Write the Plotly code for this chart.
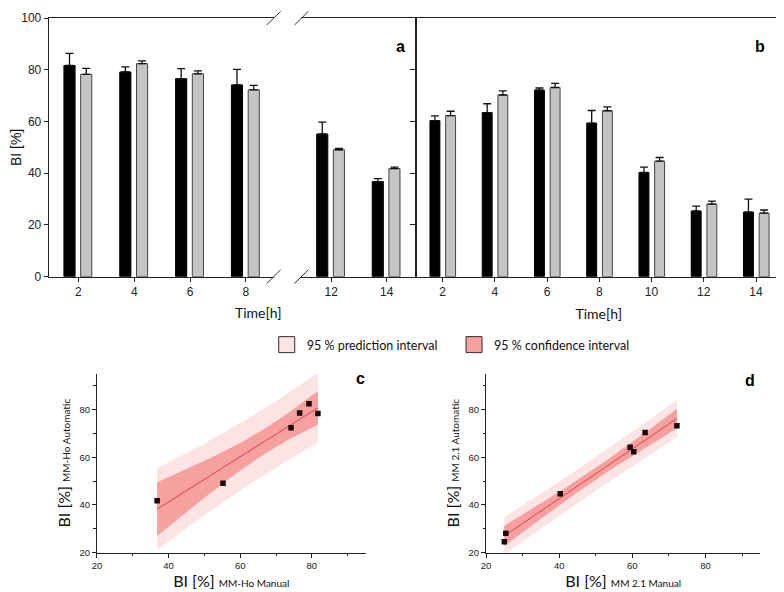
import numpy as np
import plotly.graph_objects as go

W, H = 784, 592
OFF_X = 8  # page body margin of the browser
OFF_Y = 6

# ---------------- data ----------------
# Panel a (MM-Ho): time points, manual (black) and automatic (grey) BI [%], upper error
time_a = [2, 4, 6, 8, 12, 14]
a_manual = [81.7, 79.2, 76.6, 74.2, 55.2, 36.8]
a_manual_err = [4.7, 2.0, 3.9, 6.0, 4.6, 1.1]
a_auto = [78.3, 82.4, 78.5, 72.3, 49.1, 41.8]
a_auto_err = [2.3, 1.1, 1.1, 1.7, 0.5, 0.6]

# Panel b (MM 2.1)
time_b = [2, 4, 6, 8, 10, 12, 14]
b_manual = [60.4, 63.5, 72.2, 59.4, 40.3, 25.4, 25.0]
b_manual_err = [1.8, 3.4, 0.8, 4.9, 2.1, 1.9, 5.0]
b_auto = [62.3, 70.3, 73.2, 64.2, 44.7, 28.1, 24.6]
b_auto_err = [1.7, 1.6, 1.6, 1.5, 1.4, 1.1, 1.2]

y_ticks = [0, 20, 40, 60, 80, 100]
scatter_ticks = [20, 40, 60, 80]
t_crit = {4: 2.776, 5: 2.571}  # Student t (0.975) for df


# ---------------- helpers ----------------
def px(x):
    return (x - OFF_X) / W


def py(y):
    return 1 - (y - OFF_Y) / H


fig = go.Figure()

BLACK = "#000000"
GREY = "#c4c4c4"
AXC = "#222222"
TICKFONT = dict(family="Liberation Sans, Arial", size=12, color="#222")


def add_bars(times, vals, errs, idx, xa, ya, color, lcolor, offset, width, name):
    fig.add_trace(go.Bar(
        x=[times[i] for i in idx], y=[vals[i] for i in idx], name=name,
        error_y=dict(type="data", symmetric=False,
                     array=[errs[i] for i in idx], arrayminus=[0] * len(idx),
                     color="#111", thickness=1.3, width=4),
        marker=dict(color=color, line=dict(color=lcolor, width=1)),
        offset=offset, width=width, xaxis=xa, yaxis=ya, showlegend=False))


left_idx = [i for i, t in enumerate(time_a) if t < 10]
right_idx = [i for i, t in enumerate(time_a) if t > 10]
all_b = list(range(len(time_b)))

add_bars(time_a, a_manual, a_manual_err, left_idx, "x", "y", BLACK, BLACK, -0.52, 0.40, "Manual")
add_bars(time_a, a_auto, a_auto_err, left_idx, "x", "y", GREY, "#444", 0.08, 0.40, "Automatic")
add_bars(time_a, a_manual, a_manual_err, right_idx, "x2", "y2", BLACK, BLACK, -0.52, 0.40, "Manual")
add_bars(time_a, a_auto, a_auto_err, right_idx, "x2", "y2", GREY, "#444", 0.08, 0.40, "Automatic")
add_bars(time_b, b_manual, b_manual_err, all_b, "x3", "y3", BLACK, BLACK, -0.48, 0.38, "Manual")
add_bars(time_b, b_auto, b_auto_err, all_b, "x3", "y3", GREY, "#444", 0.12, 0.38, "Automatic")


# ---------------- regression panels ----------------
def regression(xv, yv):
    x = np.array(xv, dtype=float)
    y = np.array(yv, dtype=float)
    n = len(x)
    slope, intercept = np.polyfit(x, y, 1)
    xs = np.linspace(x.min(), x.max(), 60)
    yhat = intercept + slope * xs
    resid = y - (intercept + slope * x)
    s = np.sqrt(np.sum(resid ** 2) / (n - 2))
    sxx = np.sum((x - x.mean()) ** 2)
    t = t_crit[n - 2]
    conf = t * s * np.sqrt(1 / n + (xs - x.mean()) ** 2 / sxx)
    pred = t * s * np.sqrt(1 + 1 / n + (xs - x.mean()) ** 2 / sxx)
    return xs, yhat, conf, pred


PRED_C = "#fde4e4"
CONF_C = "#f6a0a0"
LINE_C = "#e0403c"


def add_regression(xv, yv, xa, ya):
    xs, yhat, conf, pred = regression(xv, yv)
    xpoly = list(xs) + list(xs[::-1])
    fig.add_trace(go.Scatter(x=xpoly, y=list(yhat + pred) + list((yhat - pred)[::-1]),
                             fill="toself", fillcolor=PRED_C, line=dict(width=0),
                             mode="lines", xaxis=xa, yaxis=ya, showlegend=False,
                             hoverinfo="skip"))
    fig.add_trace(go.Scatter(x=xpoly, y=list(yhat + conf) + list((yhat - conf)[::-1]),
                             fill="toself", fillcolor=CONF_C, line=dict(width=0),
                             mode="lines", xaxis=xa, yaxis=ya, showlegend=False,
                             hoverinfo="skip"))
    fig.add_trace(go.Scatter(x=xs, y=yhat, mode="lines", line=dict(color=LINE_C, width=1),
                             xaxis=xa, yaxis=ya, showlegend=False))
    fig.add_trace(go.Scatter(x=xv, y=yv, mode="markers",
                             marker=dict(symbol="square", size=5.5, color="#1a0505"),
                             xaxis=xa, yaxis=ya, showlegend=False))


add_regression(a_manual, a_auto, "x4", "y4")
add_regression(b_manual, b_auto, "x5", "y5")

# legend entries
fig.add_trace(go.Scatter(x=[None], y=[None], mode="markers", name="95 % prediction interval",
                         marker=dict(symbol="square", size=16, color=PRED_C,
                                     line=dict(color="#3a2a2a", width=1)),
                         xaxis="x4", yaxis="y4", legend="legend"))
fig.add_trace(go.Scatter(x=[None], y=[None], mode="markers", name="95 % confidence interval",
                         marker=dict(symbol="square", size=16, color=CONF_C,
                                     line=dict(color="#3a2a2a", width=1)),
                         xaxis="x4", yaxis="y4", legend="legend2"))

# ---------------- axes ----------------
top_dom = [py(274), py(9.3)]
common_x = dict(showline=True, linecolor=AXC, linewidth=1, mirror=True, ticks="outside",
                ticklen=4, tickcolor=AXC, showgrid=False, zeroline=False, tickfont=TICKFONT)
fig.update_layout(
    xaxis=dict(common_x, domain=[px(42), px(269)], range=[0.935, 8.994], anchor="y",
               tickvals=[t for t in time_a if t < 10]),
    yaxis=dict(domain=top_dom, range=[0, 100], anchor="x", tickvals=y_ticks,
               showline=True, linecolor=AXC, ticks="outside", ticklen=4, tickcolor=AXC,
               showgrid=False, zeroline=False, tickfont=TICKFONT, ticklabeloverflow="allow",
               title=dict(text="BI [%]", font=dict(family="Liberation Sans, Arial", size=14, color="#111"),
                          standoff=3)),
    xaxis2=dict(common_x, domain=[px(297), px(413)], range=[10.93, 15.07], anchor="y2",
                tickvals=[t for t in time_a if t > 10]),
    yaxis2=dict(domain=top_dom, range=[0, 100], anchor="x2", side="right", tickvals=y_ticks,
                showline=True, linecolor=AXC, ticks="inside", ticklen=6, tickcolor=AXC,
                showticklabels=False, showgrid=False, zeroline=False),
    xaxis3=dict(common_x, domain=[px(413), px(781)], range=[1.0, 14.96], anchor="y3",
                tickvals=time_b,
                title=dict(text="Time[h]", font=dict(family="Lato", size=14, color="#111"),
                           standoff=11)),
    yaxis3=dict(domain=top_dom, range=[0, 100], anchor="x3", showline=True, mirror=True,
                linecolor=AXC, ticks="", showticklabels=False, showgrid=False, zeroline=False),
)

sc_font = dict(family="Liberation Sans, Arial", size=9.5, color="#222")
sc_dom_y = [py(556.7), py(373.3)]


def sc_axis(domain, anchor, title):
    return dict(domain=domain, range=[20, 95], anchor=anchor, tickvals=scatter_ticks,
                showline=True, linecolor=AXC, linewidth=1, ticks="outside", ticklen=4,
                tickcolor=AXC, minor=dict(dtick=10, tick0=0, ticks="outside", ticklen=2.5,
                                          tickcolor=AXC),
                showgrid=False, zeroline=False, tickfont=sc_font,
                title=dict(text=title, font=dict(family="Lato", size=16, color="#111"),
                           standoff=4))


fig.update_layout(
    xaxis4=sc_axis([px(90.7), px(361.7)], "y4",
                   'BI [%] <span style="font-size:10px">MM-Ho Manual</span>'),
    yaxis4=sc_axis(sc_dom_y, "x4",
                   'BI [%] <span style="font-size:10px">MM-Ho Automatic</span>'),
    xaxis5=sc_axis([px(483.3), px(760)], "y5",
                   'BI [%] <span style="font-size:10px">MM 2.1 Manual</span>'),
    yaxis5=sc_axis(sc_dom_y, "x5",
                   'BI [%] <span style="font-size:10px">MM 2.1 Automatic</span>'),
)

# time title for panel a (spans the broken axis)
ann = [dict(text="Time[h]", x=px(227.5), y=py(311), xref="paper", yref="paper",
            showarrow=False, font=dict(family="Lato", size=14, color="#111"))]
for lab, xx, yy in [("a", 397, 27), ("b", 767, 28), ("c", 357, 378), ("d", 757, 380)]:
    ann.append(dict(text="<b>%s</b>" % lab, x=px(xx), y=py(yy), xref="paper", yref="paper",
                    showarrow=False, font=dict(family="Liberation Sans, Arial", size=16, color="#000")))

# axis-break marks
shapes = []
for cx in (269, 297):
    for cy in (9.3, 274):
        shapes.append(dict(type="line", xref="paper", yref="paper",
                           x0=px(cx - 7), y0=py(cy + 7), x1=px(cx + 7), y1=py(cy - 7),
                           line=dict(color="#333", width=1)))

leg_font = dict(family="Lato", size=12.5, color="#111")
fig.update_layout(
    width=W, height=H, margin=dict(l=0, r=0, t=0, b=0),
    paper_bgcolor="white", plot_bgcolor="rgba(0,0,0,0)",
    barmode="overlay", annotations=ann, shapes=shapes,
    legend=dict(x=px(262), y=py(344), xanchor="left", yanchor="middle", font=leg_font,
                bgcolor="rgba(0,0,0,0)", orientation="h"),
    legend2=dict(x=px(451), y=py(344), xanchor="left", yanchor="middle", font=leg_font,
                 bgcolor="rgba(0,0,0,0)", orientation="h"),
)

fig.write_html("out.html")
